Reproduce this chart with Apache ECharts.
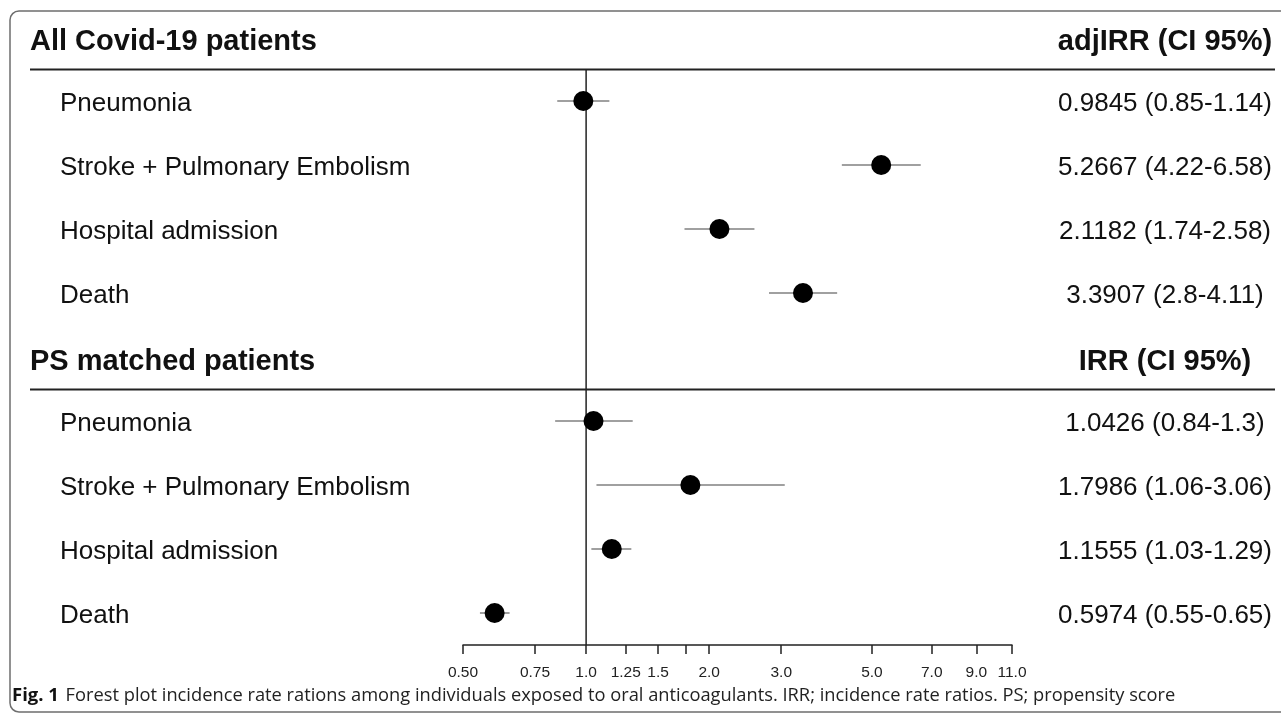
<!DOCTYPE html>
<html>
<head>
<meta charset="utf-8">
<script src="https://cdn.jsdelivr.net/npm/echarts@6/dist/echarts.min.js"></script>
<style>
  html, body { margin: 0; padding: 0; background: #fff; }
  #chart { width: 1281px; height: 715px; }
</style>
</head>
<body>
<div id="chart"></div>
<script>
// rows top to bottom (headers included)
const rowNames = ['All Covid-19 patients', 'Pneumonia', 'Stroke + Pulmonary Embolism', 'Hospital admission', 'Death',
  'PS matched patients', 'Pneumonia', 'Stroke + Pulmonary Embolism', 'Hospital admission', 'Death'];
const rowIsHeader = [true, false, false, false, false, true, false, false, false, false];
const rightText = ['adjIRR (CI 95%)', '0.9845 (0.85-1.14)', '5.2667 (4.22-6.58)', '2.1182 (1.74-2.58)', '3.3907 (2.8-4.11)',
  'IRR (CI 95%)', '1.0426 (0.84-1.3)', '1.7986 (1.06-3.06)', '1.1555 (1.03-1.29)', '0.5974 (0.55-0.65)'];

// estimates (null for header rows)
const estimate = [null, 0.9845, 5.2667, 2.1182, 3.3907, null, 1.0426, 1.7986, 1.1555, 0.5974];
const ciLow    = [null, 0.85, 4.22, 1.74, 2.8, null, 0.84, 1.06, 1.03, 0.55];
const ciHigh   = [null, 1.14, 6.58, 2.58, 4.11, null, 1.3, 3.06, 1.29, 0.65];

// x axis ticks
const tickValues = [0.5, 0.75, 1, 1.25, 1.5, 1.75, 2, 3, 5, 7, 9, 11];
const labelValues = [0.5, 0.75, 1, 1.25, 1.5, 2, 3, 5, 7, 9, 11];
const labelText = ['0.50', '0.75', '1.0', '1.25', '1.5', '2.0', '3.0', '5.0', '7.0', '9.0', '11.0'];

const rowIds = rowNames.map((n, i) => 'r' + i);
const pointData = [], ciData = [];
estimate.forEach((v, i) => {
  if (v == null) return;
  pointData.push([v, i]);
  ciData.push([ciLow[i], ciHigh[i], i]);
});

const chart = echarts.init(document.getElementById('chart'));
const fontTxt = '"Liberation Sans", Arial, sans-serif';

chart.setOption({
  animation: false,
  backgroundColor: '#fff',
  grid: { left: 463, right: 269, top: 5, height: 640 },
  xAxis: {
    type: 'log',
    min: 0.5,
    max: 11,
    splitLine: { show: false },
    axisLine: { show: true, lineStyle: { color: '#222', width: 1.5 } },
    axisTick: { show: true, length: 9, lineStyle: { color: '#222', width: 1.5 }, customValues: tickValues },
    axisLabel: {
      customValues: labelValues,
      margin: 20,
      fontFamily: fontTxt,
      fontSize: 15.5,
      color: '#222',
      formatter: function (v) {
        const k = labelValues.findIndex(t => Math.abs(t - v) < 1e-6);
        return k >= 0 ? labelText[k] : '';
      }
    }
  },
  yAxis: [{
    type: 'category',
    inverse: true,
    data: rowIds,
    axisLine: { show: false },
    axisTick: { show: false },
    splitLine: { show: false },
    axisLabel: {
      align: 'left',
      margin: 433,
      formatter: function (v, i) {
        return rowIsHeader[i] ? '{h|' + rowNames[i] + '}' : '{r|' + rowNames[i] + '}';
      },
      rich: {
        h: { fontFamily: fontTxt, fontSize: 29, fontWeight: 'bold', color: '#111', padding: [9, 0, 0, 0] },
        r: { fontFamily: fontTxt, fontSize: 26, color: '#111', padding: [6, 0, 0, 30] }
      }
    }
  }, {
    type: 'category',
    inverse: true,
    position: 'right',
    data: rowIds,
    axisLine: { show: false },
    axisTick: { show: false },
    splitLine: { show: false },
    axisLabel: {
      align: 'center',
      margin: 153,
      formatter: function (v, i) {
        return rowIsHeader[i] ? '{h|' + rightText[i] + '}' : '{r|' + rightText[i] + '}';
      },
      rich: {
        h: { fontFamily: fontTxt, fontSize: 29, fontWeight: 'bold', color: '#111', padding: [9, 0, 0, 0] },
        r: { fontFamily: fontTxt, fontSize: 26, color: '#111', padding: [6, 0, 0, 0] }
      }
    }
  }],
  series: [{
    // reference line at 1
    type: 'custom',
    data: [[1, 1, 9]],
    encode: { x: 0, y: 1 },
    silent: true,
    z: 1,
    renderItem: function (params, api) {
      const band = api.size([0, 1])[1];
      const p0 = api.coord([api.value(0), api.value(1)]);
      const p1 = api.coord([api.value(0), api.value(2)]);
      return {
        type: 'line',
        shape: { x1: p0[0], y1: p0[1] - band / 2, x2: p1[0], y2: p1[1] + band / 2 },
        style: { stroke: '#222', lineWidth: 1.5 }
      };
    }
  }, {
    // separator lines under the group headers
    type: 'custom',
    data: rowIsHeader.map((h, i) => h ? [1, i] : null).filter(d => d),
    encode: { x: 0, y: 1 },
    silent: true,
    clip: false,
    z: 1,
    renderItem: function (params, api) {
      const band = api.size([0, 1])[1];
      const p = api.coord([api.value(0), api.value(1)]);
      const y = Math.round(p[1] + band / 2) + 0.5;
      return {
        type: 'line',
        shape: { x1: 30, y1: y, x2: 1275, y2: y },
        style: { stroke: '#222', lineWidth: 1.8 }
      };
    }
  }, {
    // confidence intervals
    type: 'custom',
    data: ciData,
    encode: { x: [0, 1], y: 2 },
    silent: true,
    z: 2,
    renderItem: function (params, api) {
      const a = api.coord([api.value(0), api.value(2)]);
      const b = api.coord([api.value(1), api.value(2)]);
      return {
        type: 'line',
        shape: { x1: a[0], y1: a[1], x2: b[0], y2: b[1] },
        style: { stroke: '#808080', lineWidth: 1.5 }
      };
    }
  }, {
    type: 'scatter',
    data: pointData,
    symbol: 'circle',
    symbolSize: 20,
    itemStyle: { color: '#000', opacity: 1 },
    z: 3
  }],
  graphic: [{
    type: 'rect',
    shape: { x: 10, y: 11, width: 1290, height: 701, r: 9 },
    style: { fill: null, stroke: '#6e6e6e', lineWidth: 1.5 },
    silent: true
  }, {
    type: 'text',
    left: 12,
    top: 686,
    style: {
      text: '{b|Fig. 1}  {n|Forest plot incidence rate rations among individuals exposed to oral anticoagulants. IRR; incidence rate ratios. PS; propensity score}',
      rich: {
        b: { fontFamily: '"Open Sans", "Noto Sans", sans-serif', fontSize: 18.5, fontWeight: 'bold', fill: '#111' },
        n: { fontFamily: '"Open Sans", "Noto Sans", sans-serif', fontSize: 18.3, fill: '#222' }
      }
    }
  }]
});
</script>
</body>
</html>
